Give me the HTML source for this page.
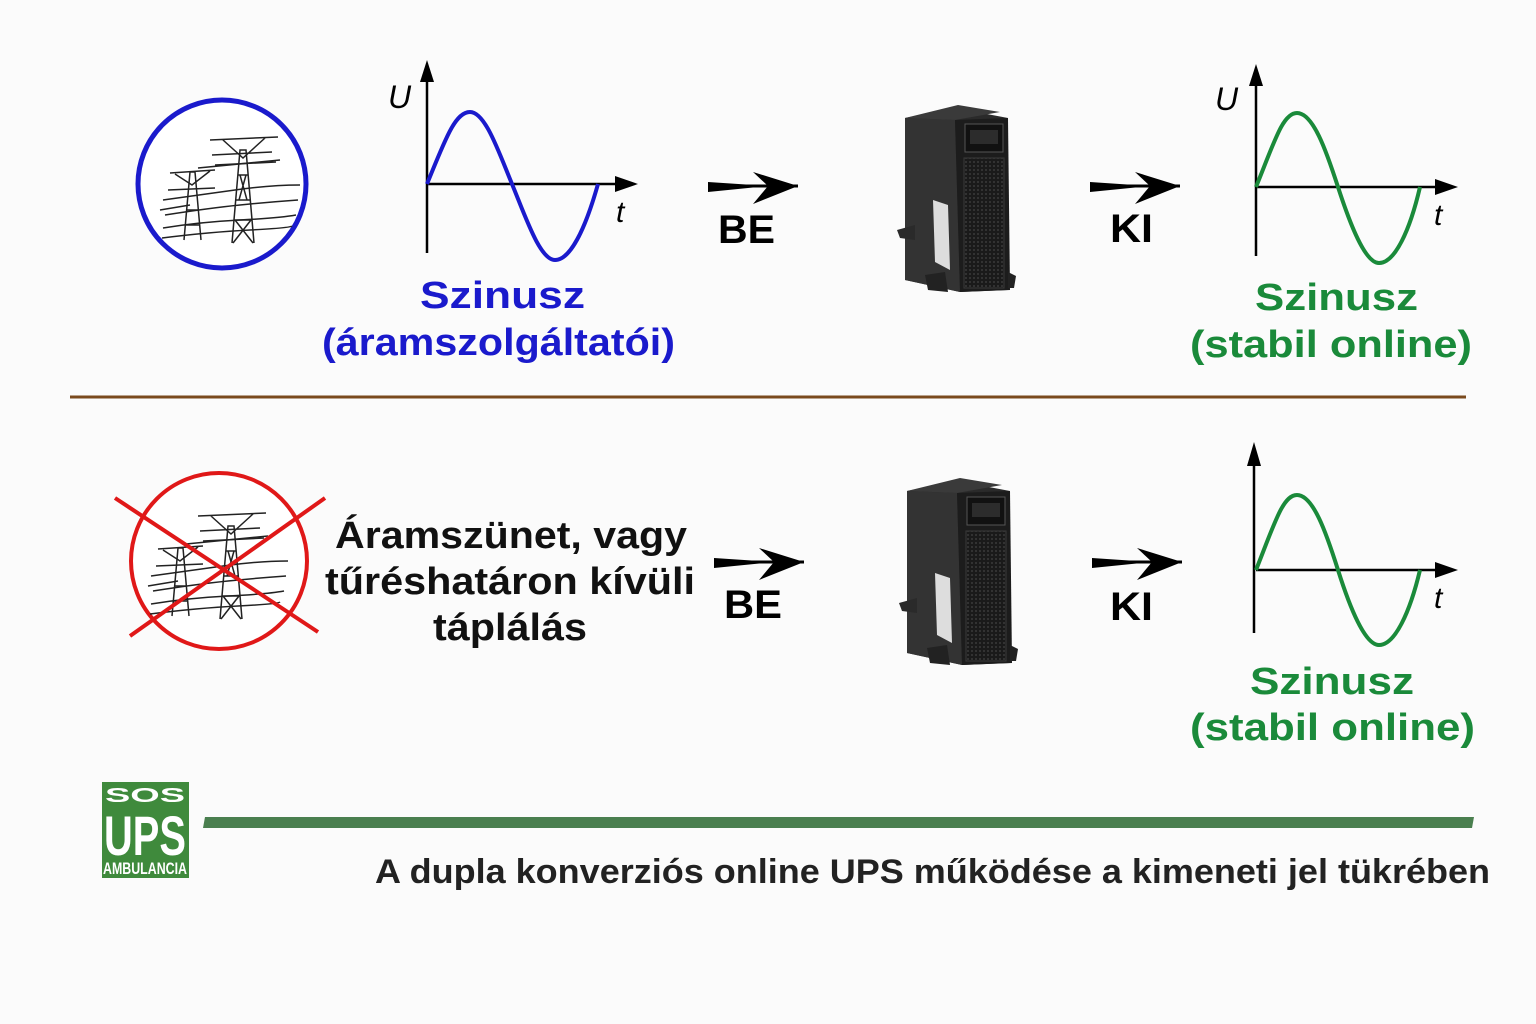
<!DOCTYPE html>
<html><head><meta charset="utf-8"><style>
html,body{margin:0;padding:0;background:#fbfbfb}
svg{display:block}
text{font-family:"Liberation Sans",Arial,sans-serif;font-weight:bold}
text.it{font-style:italic;font-weight:normal}
</style></head><body>
<svg width="1536" height="1024" viewBox="0 0 1536 1024" xmlns="http://www.w3.org/2000/svg">
<defs>
<g id="towers" stroke="#222" fill="none" stroke-width="1.5">
  <path d="M232,243 L240,150 L246,150 L254,243 M236,200 L250,200 M238,175 L248,175 M234,220 L252,220 M233,243 L251,220 M253,243 L235,220 M240,175 L247,200 M246,175 L239,200"/>
  <path d="M210,140 L278,137 M223,140 L243,158 L265,138 M212,155 L272,152 M215,165 L276,162"/>
  <path d="M184,240 L190,172 L195,172 L201,240 M186,210 L199,210 M185,225 L200,225"/>
  <path d="M170,173 L215,170 M175,174 L192,185 L210,171 M168,190 L215,188"/>
  <path d="M163,200 Q200,195 235,190 T300,185 M165,215 Q210,208 240,205 T298,200 M163,228 Q200,222 240,220 T296,215 M162,238 Q210,232 250,230 T292,226 M198,168 L280,160 M160,210 L190,205"/>
</g>
<pattern id="grill" width="4" height="4" patternUnits="userSpaceOnUse">
  <rect width="4" height="4" fill="#1a1a1a"/><circle cx="2" cy="2" r="1" fill="#3a3a3a"/>
</pattern>
<g id="ups">
  <polygon points="905,118 955,108 1008,118 1008,290 960,292 905,280" fill="#2a2a2a"/>
  <polygon points="905,118 958,105 1000,112 955,120" fill="#3a3a3a"/>
  <polygon points="905,118 955,120 960,292 905,280" fill="#333"/>
  <polygon points="955,120 1008,118 1010,290 960,292" fill="#1c1c1c"/>
  <rect x="965" y="124" width="38" height="28" fill="#111" stroke="#555" stroke-width="1"/>
  <rect x="970" y="130" width="28" height="14" fill="#2c2c2c"/>
  <rect x="964" y="158" width="40" height="130" fill="url(#grill)" stroke="#3a3a3a"/>
  <polygon points="933,200 948,205 950,270 935,262" fill="#ddd"/>
  <polygon points="897,230 915,225 915,240 900,238" fill="#2a2a2a"/>
  <polygon points="925,275 945,272 948,292 928,290" fill="#222"/>
  <polygon points="1008,272 1016,276 1014,288 1008,288" fill="#222"/>
</g>
<g id="arr">
  <path d="M0,0 L90,0" stroke="#000" stroke-width="3"/>
  <path d="M45,-14 L90,0 L45,18 L60,0 Z" fill="#000"/>
  <path d="M0,-4 L60,0 L0,6 Z" fill="#000"/>
</g>
</defs>
<rect width="1536" height="1024" fill="#fbfbfb"/>

<circle cx="222" cy="184" r="84" fill="#fff" stroke="#1a1acc" stroke-width="5"/>
<use href="#towers"/>

<path d="M427,253 L427,72" stroke="#000" stroke-width="2.5"/>
<path d="M420,82 L427,60 L434,82 Z" fill="#000"/>
<path d="M427,184 L625,184" stroke="#000" stroke-width="2.5"/>
<path d="M615,176 L638,184 L615,192 Z" fill="#000"/>
<path d="M427,184 C445,140 455,112 470,112 C485,112 498,150 512,184 C526,218 540,260 555,260 C570,260 585,230 598,184" stroke="#1a1acc" stroke-width="4" fill="none"/>
<text class="it" x="388" y="108" font-size="32">U</text>
<text class="it" x="616" y="222" font-size="30">t</text>
<text x="420" y="308" font-size="38" fill="#1a1acc" textLength="165" lengthAdjust="spacingAndGlyphs">Szinusz</text>
<text x="322" y="355" font-size="38" fill="#1a1acc" textLength="353" lengthAdjust="spacingAndGlyphs">(áramszolgáltatói)</text>

<use href="#arr" x="708" y="186"/>
<text x="718" y="243" font-size="40" textLength="57" lengthAdjust="spacingAndGlyphs">BE</text>
<use href="#ups"/>
<use href="#arr" x="1090" y="186"/>
<text x="1110" y="242" font-size="40" textLength="43" lengthAdjust="spacingAndGlyphs">KI</text>

<path d="M1256,256 L1256,78" stroke="#000" stroke-width="2.5"/>
<path d="M1249,86 L1256,64 L1263,86 Z" fill="#000"/>
<path d="M1256,187 L1445,187" stroke="#000" stroke-width="2.5"/>
<path d="M1435,179 L1458,187 L1435,195 Z" fill="#000"/>
<path d="M1256,187 C1275,140 1283,113 1297,113 C1313,113 1326,150 1338,187 C1350,224 1365,263 1379,263 C1395,263 1410,230 1420,187" stroke="#1a8a3a" stroke-width="4" fill="none"/>
<text class="it" x="1215" y="110" font-size="32">U</text>
<text class="it" x="1434" y="225" font-size="30">t</text>
<text x="1255" y="310" font-size="38" fill="#1a8a3a" textLength="163" lengthAdjust="spacingAndGlyphs">Szinusz</text>
<text x="1190" y="357" font-size="38" fill="#1a8a3a" textLength="282" lengthAdjust="spacingAndGlyphs">(stabil online)</text>

<path d="M70,397 L1466,397" stroke="#7a4a1e" stroke-width="3"/>

<circle cx="219" cy="561" r="88" fill="#fff" stroke="#e01818" stroke-width="4"/>
<use href="#towers" x="-12" y="376"/>
<path d="M115,498 L318,632 M325,498 L130,636" stroke="#e01818" stroke-width="4"/>
<text x="335" y="548" font-size="38" fill="#111" textLength="352" lengthAdjust="spacingAndGlyphs">Áramszünet, vagy</text>
<text x="325" y="594" font-size="38" fill="#111" textLength="370" lengthAdjust="spacingAndGlyphs">tűréshatáron kívüli</text>
<text x="433" y="640" font-size="38" fill="#111" textLength="154" lengthAdjust="spacingAndGlyphs">táplálás</text>

<use href="#arr" x="714" y="562"/>
<text x="724" y="618" font-size="40" textLength="58" lengthAdjust="spacingAndGlyphs">BE</text>
<use href="#ups" x="2" y="373"/>
<use href="#arr" x="1092" y="562"/>
<text x="1110" y="620" font-size="40" textLength="43" lengthAdjust="spacingAndGlyphs">KI</text>

<path d="M1254,633 L1254,456" stroke="#000" stroke-width="2.5"/>
<path d="M1247,466 L1254,442 L1261,466 Z" fill="#000"/>
<path d="M1256,570 L1445,570" stroke="#000" stroke-width="2.5"/>
<path d="M1435,562 L1458,570 L1435,578 Z" fill="#000"/>
<path d="M1256,570 C1275,522 1283,495 1297,495 C1313,495 1326,532 1338,570 C1350,608 1365,645 1379,645 C1395,645 1410,612 1420,570" stroke="#1a8a3a" stroke-width="4" fill="none"/>
<text class="it" x="1434" y="608" font-size="30">t</text>
<text x="1250" y="694" font-size="38" fill="#1a8a3a" textLength="164" lengthAdjust="spacingAndGlyphs">Szinusz</text>
<text x="1190" y="740" font-size="38" fill="#1a8a3a" textLength="285" lengthAdjust="spacingAndGlyphs">(stabil online)</text>

<rect x="102" y="782" width="87" height="96" fill="#3f8a3c"/>
<text x="145" y="802" font-size="20" fill="#fff" text-anchor="middle" textLength="80" lengthAdjust="spacingAndGlyphs">SOS</text>
<text x="145" y="855" font-size="56" fill="#fff" text-anchor="middle" textLength="82" lengthAdjust="spacingAndGlyphs">UPS</text>
<text x="145" y="874" font-size="17" fill="#fff" text-anchor="middle" textLength="84" lengthAdjust="spacingAndGlyphs">AMBULANCIA</text>

<polygon points="205,817 1474,817 1472,828 203,828" fill="#4a7f4f"/>
<text x="375" y="883" font-size="34" fill="#222" textLength="1115" lengthAdjust="spacingAndGlyphs">A dupla konverziós online UPS működése a kimeneti jel tükrében</text>
</svg>
</body></html>
